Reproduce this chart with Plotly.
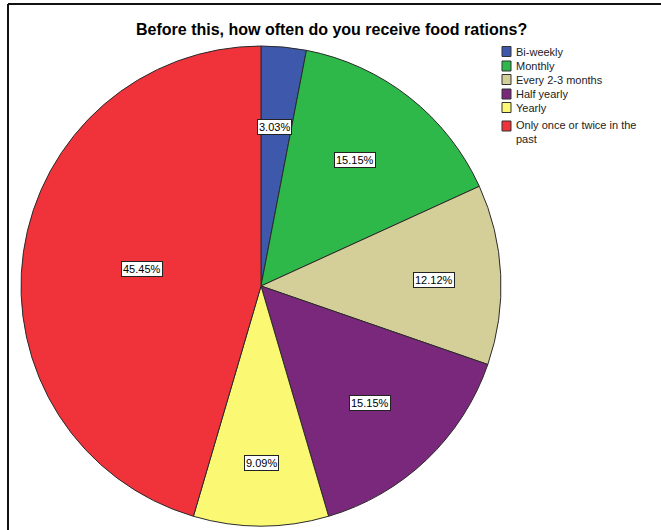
import math
import plotly.graph_objects as go

# Survey responses (counts) for frequency of receiving food rations
categories = ["Bi-weekly", "Monthly", "Every 2-3 months", "Half yearly", "Yearly",
              "Only once or twice in the past"]
counts = [1, 5, 4, 5, 3, 15]
legend_text = ["Bi-weekly", "Monthly", "Every 2-3 months", "Half yearly",
               "Yearly", "Only once or twice in the<br>past"]
colors = ["#3E58AC", "#2FB84A", "#D4CE98", "#7A287C", "#FBF874", "#F0333B"]

W, H = 661, 530
CX, CY, R = 261, 286, 240          # pie centre / radius in pixels
FONT = "Liberation Sans, Arial, sans-serif"

total = sum(counts)
pct = [c / total * 100 for c in counts]

fig = go.Figure(go.Pie(
    labels=categories,
    values=counts,
    sort=False,
    direction="clockwise",
    rotation=0,
    textinfo="none",
    hoverinfo="label+percent",
    showlegend=False,
    marker=dict(colors=colors, line=dict(color="#2a2a2a", width=1)),
    domain=dict(x=[(CX - R) / W, (CX + R) / W],
                y=[(H - CY - R) / H, (H - CY + R) / H]),
))

# Boxed percentage labels placed near each slice's mid-angle
label_radius = [0.663, 0.655, 0.72, 0.667, 0.738, 0.50]
label_turn = [-0.5, -1.5, 0.7, 0.6, 0.0, 0.0]   # degrees
annotations = []
start = 0.0
for p, rf, dt in zip(pct, label_radius, label_turn):
    mid = math.radians((start + p / 2) / 100 * 360 + dt)
    start += p
    px = CX + rf * R * math.sin(mid)
    py = CY - rf * R * math.cos(mid)
    annotations.append(dict(
        x=px / W, y=1 - py / H, xref="paper", yref="paper",
        xanchor="center", yanchor="middle",
        text=f"{p:.2f}%", showarrow=False,
        font=dict(family=FONT, size=11, color="#000"),
        bgcolor="white", bordercolor="#222", borderwidth=1, borderpad=1,
    ))

annotations.append(dict(
    x=331 / W, y=1 - 30 / H, xref="paper", yref="paper",
    xanchor="center", yanchor="middle",
    text="<b>Before this, how often do you receive food rations?</b>",
    showarrow=False,
    font=dict(family=FONT, size=16, color="#000"),
))

# Frame lines along the top and left edges
shapes = [
    dict(type="line", xref="paper", yref="paper",
         x0=8 / W, x1=1.01, y0=1 - 4 / H, y1=1 - 4 / H,
         line=dict(color="#111", width=2)),
    dict(type="line", xref="paper", yref="paper",
         x0=8 / W, x1=8 / W, y0=1 - 4 / H, y1=-0.01,
         line=dict(color="#111", width=2)),
]

# Compact legend: swatch + label per category
legend_y = [51.5, 66, 79.5, 94, 107.5, 126]
SW = 9
for col, txt, yc in zip(colors, legend_text, legend_y):
    shapes.append(dict(
        type="rect", xref="paper", yref="paper",
        x0=502 / W, x1=(502 + SW) / W,
        y0=1 - (yc - SW / 2 - 0.5) / H, y1=1 - (yc + SW / 2 + 0.5) / H,
        fillcolor=col, line=dict(color="#333", width=1),
    ))
    two_line = "<br>" in txt
    annotations.append(dict(
        x=515 / W, y=1 - ((yc - 8) if two_line else yc) / H,
        xref="paper", yref="paper",
        xanchor="left", yanchor="top" if two_line else "middle",
        align="left", text=txt, showarrow=False, borderpad=0,
        font=dict(family=FONT, size=11, color="#222"),
    ))

fig.update_layout(
    width=W, height=H,
    margin=dict(l=0, r=0, t=0, b=0),
    paper_bgcolor="white",
    plot_bgcolor="white",
    showlegend=False,
    annotations=annotations,
    shapes=shapes,
)

fig.write_html("out.html")
